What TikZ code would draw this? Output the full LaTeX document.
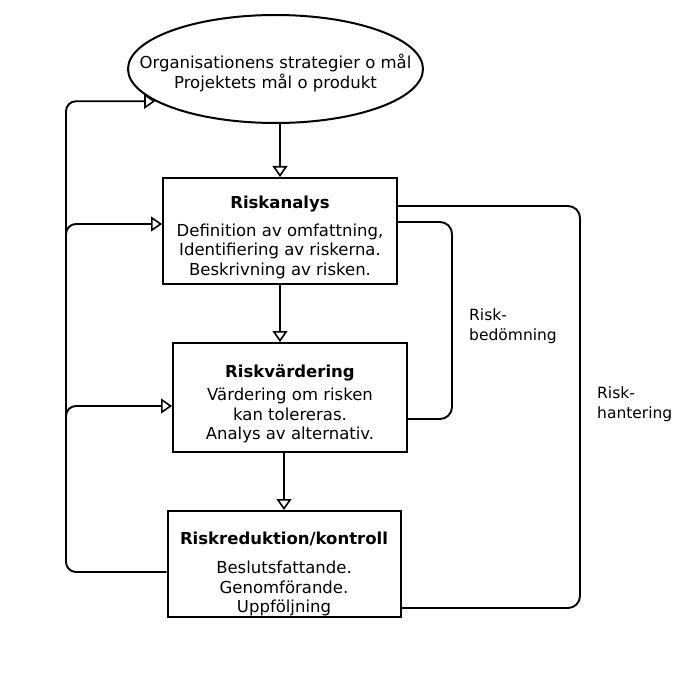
\documentclass[tikz,border=0pt]{standalone}
\usepackage{fontspec}
\setmainfont{DejaVu Sans}
\usetikzlibrary{shapes.geometric,arrows.meta}
\begin{document}
\begin{tikzpicture}[x=1pt,y=-1pt,
  every node/.style={inner sep=0pt},
  txt/.style={align=center, font=\fontsize{16.5}{19.5}\selectfont},
  lbl/.style={align=left, anchor=north west, font=\fontsize{15.5}{19.5}\selectfont},
  box/.style={draw, line width=2pt, minimum width=234pt, minimum height=106pt},
  ellnode/.style={draw, ellipse, line width=2pt, minimum width=295pt, minimum height=108pt},
  conn/.style={line width=1.9pt},
  arr/.style={conn, -{Triangle[open,width=15pt,length=11pt,line width=1.6pt]}}]
\useasboundingbox (0,0) rectangle (676,687);

% nodes
\node[ellnode] (ell) at (275.5,69) {};
\node[txt] (ellt) at (275.5,73) {Organisationens strategier o mål\\Projektets mål o produkt};

\node[box] (ra) at (280,231) {};
\node[txt] (rat) at (280,237) {\textbf{Riskanalys}\\[8.5pt]Definition av omfattning,\\Identifiering av riskerna.\\Beskrivning av risken.};

\node[box, minimum height=109pt] (rv) at (290,397.5) {};
\node[txt] (rvt) at (290,404) {\textbf{Riskvärdering}\\[3.5pt]Värdering om risken\\kan tolereras.\\Analys av alternativ.};

\node[box, minimum width=233pt] (rr) at (284,564) {};
\node[txt] (rrt) at (284,574) {\textbf{Riskreduktion/kontroll}\\[9.5pt]Beslutsfattande.\\Genomförande.\\Uppföljning};

\node[lbl] (bed) at (469,309) {Risk-\\bedömning};
\node[lbl] (han) at (597,387) {Risk-\\hantering};

% helper coordinates
\coordinate (lb) at (66,572);
\coordinate (ba1) at (66,242);
\coordinate (ba2) at (66,424);
\coordinate (ri1) at (452,222);
\coordinate (ri2) at (452,419);
\coordinate (ro1) at (580,206);
\coordinate (ro2) at (580,608);

% main flow
\draw[arr] (ell.south -| ra.north) -- (ra.north);
\draw[arr] (ra.south) -- (ra.south |- rv.north);
\draw[arr] (rv.south -| rr.north) -- (rr.north);

% feedback loop on the left
\draw[arr, rounded corners=10pt] (rr.west |- lb) -- (lb) |- (ell.195);
\draw[arr, rounded corners=10pt] (ba1) |- ([yshift=7pt]ra.west);
\draw[arr, rounded corners=10pt] (ba2) |- ([yshift=-8.5pt]rv.west);

% right-hand brackets
\draw[conn, rounded corners=12pt] (ra.east |- ri1) -- (ri1) -- (ri2) -- (rv.east |- ri2);
\draw[conn, rounded corners=12pt] (ra.east |- ro1) -- (ro1) -- (ro2) -- (rr.east |- ro2);
\end{tikzpicture}
\end{document}
